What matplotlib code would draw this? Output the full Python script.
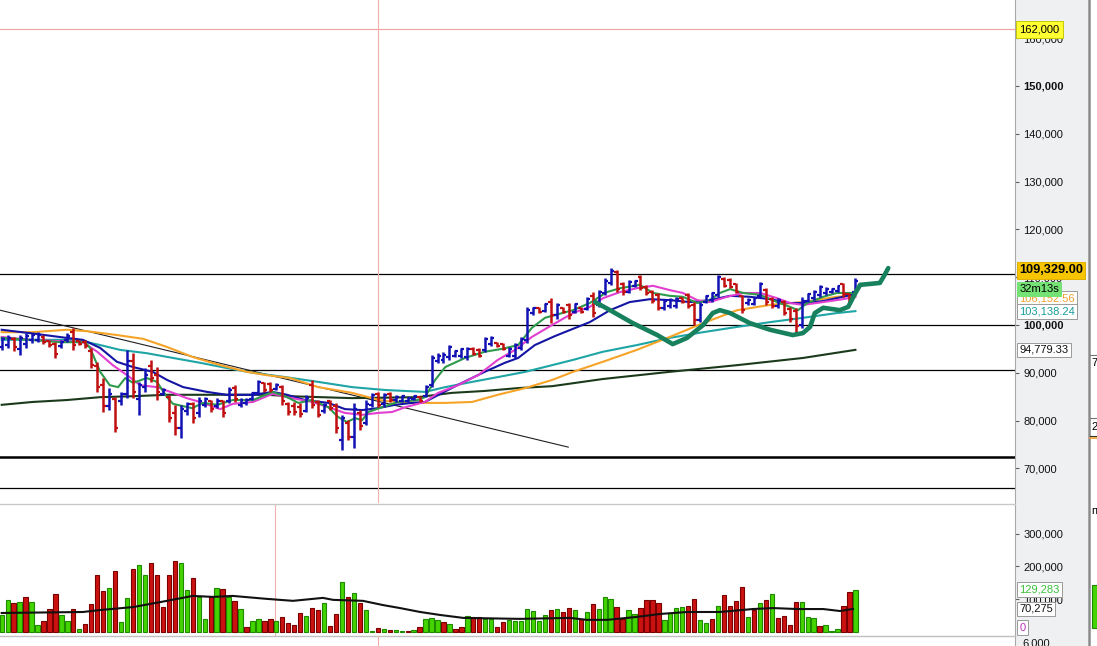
import matplotlib
matplotlib.use("Agg")
import matplotlib.pyplot as plt
from matplotlib.lines import Line2D
from matplotlib.patches import Rectangle

plt.rcParams['font.family'] = ['Liberation Sans', 'DejaVu Sans']

# --- price bars (thousands), one entry per bar ---
opens = [95.5, 95.8, 97.0, 95.0, 96.0, 96.8, 96.9, 97.5, 96.6, 96.0,
         95.6, 96.8, 98.5, 96.6, 96.5, 94.5, 91.5, 87.5, 83.0, 84.5,
         84.0, 85.5, 92.5, 84.5, 87.0, 91.5, 89.5, 85.6, 85.0, 81.5,
         78.5, 82.0, 83.5, 81.5, 83.2, 84.0, 83.0, 84.0, 84.0, 86.8,
         83.2, 83.6, 84.6, 85.8, 87.8, 87.6, 86.7, 87.0, 83.5, 83.0,
         82.8, 82.0, 87.5, 83.8, 82.0, 84.0, 83.0, 76.0, 79.5, 76.5,
         81.5, 79.5, 83.2, 85.5, 83.4, 85.6, 84.3, 84.2, 84.2, 84.5,
         85.0, 85.2, 87.5, 92.5, 92.6, 93.2, 93.6, 93.5, 93.2, 95.0,
         94.8, 94.8, 96.0, 96.2, 96.0, 93.6, 93.5, 95.2, 96.8, 102.5,
         103.6, 103.0, 104.8, 102.0, 103.5, 104.2, 102.8, 103.6, 103.4, 106.0,
         104.2, 106.6, 108.8, 111.0, 108.6, 107.0, 108.2, 110.0, 108.0, 107.0,
         106.2, 103.5, 104.0, 104.0, 105.6, 106.2, 104.2, 101.0, 104.9, 105.2,
         106.3, 109.6, 109.4, 108.5, 106.0, 104.5, 104.4, 106.0, 107.3, 105.5,
         104.0, 104.8, 103.4, 103.0, 100.0, 105.1, 105.6, 106.3, 106.6, 106.9,
         107.2, 108.5, 106.4, 107.0]
closes = [97.0, 97.2, 95.3, 97.3, 97.8, 97.9, 98.0, 96.4, 95.8, 94.0,
          96.5, 97.8, 95.8, 96.0, 95.6, 91.6, 87.0, 83.0, 85.5, 78.5,
          85.5, 92.5, 86.0, 87.5, 89.5, 89.0, 86.0, 86.5, 80.5, 78.5,
          82.5, 83.5, 80.5, 84.0, 84.5, 82.5, 84.2, 81.5, 86.5, 84.5,
          84.3, 84.4, 85.7, 88.0, 86.4, 86.5, 87.5, 84.0, 81.8, 81.8,
          81.4, 84.8, 83.2, 81.2, 83.3, 82.6, 78.5, 80.5, 76.5, 82.5,
          78.8, 83.5, 85.3, 83.3, 85.3, 84.3, 85.0, 85.1, 84.7, 85.2,
          84.2, 87.0, 93.0, 93.6, 93.8, 95.3, 94.5, 94.9, 95.0, 94.0,
          93.6, 97.0, 97.2, 95.6, 95.0, 95.0, 95.8, 97.0, 103.2, 103.5,
          102.8, 104.3, 102.0, 104.2, 102.8, 102.0, 104.3, 102.8, 105.5, 102.5,
          106.9, 109.3, 111.4, 107.5, 106.8, 109.0, 109.1, 107.7, 106.6, 105.0,
          103.6, 105.0, 105.2, 105.5, 104.9, 104.0, 101.0, 104.2, 106.0, 106.6,
          110.0, 108.2, 108.0, 107.0, 103.2, 105.3, 105.6, 108.5, 104.8, 104.0,
          105.2, 102.6, 101.2, 99.8, 105.0, 106.4, 107.0, 108.0, 107.6, 107.5,
          108.1, 106.4, 105.2, 109.3]
highs = [97.5, 97.9, 97.5, 97.9, 98.3, 98.3, 98.5, 97.9, 96.9, 96.4,
         96.9, 98.3, 99.4, 96.9, 96.9, 95.2, 92.3, 88.9, 86.8, 84.9,
         86.0, 94.8, 94.1, 88.1, 91.0, 92.7, 91.2, 86.8, 85.4, 83.3,
         83.3, 83.9, 83.9, 84.9, 84.9, 84.3, 84.7, 84.3, 87.0, 87.4,
         84.7, 84.7, 86.0, 88.5, 88.1, 88.1, 87.9, 87.4, 83.9, 83.9,
         83.7, 85.4, 88.5, 84.3, 83.7, 84.3, 83.7, 81.2, 80.1, 83.7,
         82.2, 84.3, 85.8, 86.0, 85.8, 86.0, 85.4, 85.4, 84.9, 85.4,
         85.2, 87.4, 93.7, 94.1, 94.4, 95.8, 94.8, 95.2, 95.4, 95.4,
         95.2, 97.5, 97.7, 96.4, 96.2, 95.4, 96.2, 97.5, 103.8, 103.8,
         103.8, 104.6, 105.6, 104.6, 103.8, 104.6, 104.6, 103.8, 105.9, 106.9,
         107.3, 109.8, 111.9, 111.5, 109.0, 109.4, 109.4, 110.5, 108.4, 107.3,
         106.7, 105.4, 105.6, 105.9, 105.9, 106.7, 104.8, 104.8, 106.3, 106.9,
         110.5, 110.0, 109.8, 108.8, 106.3, 105.6, 105.9, 109.0, 107.7, 105.9,
         105.6, 105.2, 103.8, 103.6, 105.9, 106.7, 107.3, 108.4, 107.9, 107.7,
         108.4, 108.8, 106.7, 109.8]
lows = [94.8, 95.2, 94.6, 93.7, 95.2, 96.2, 96.4, 96.0, 95.4, 93.1,
        95.2, 96.4, 94.8, 95.8, 95.2, 91.0, 86.0, 81.8, 82.2, 77.6,
        83.3, 84.7, 84.7, 81.2, 86.0, 88.1, 84.3, 85.4, 79.7, 77.0,
        76.4, 81.2, 79.5, 80.8, 82.8, 81.8, 82.6, 80.8, 83.7, 83.9,
        82.8, 83.3, 84.3, 85.4, 86.0, 86.0, 86.4, 83.3, 81.2, 81.2,
        80.8, 81.8, 82.6, 80.8, 81.6, 82.2, 77.4, 73.9, 75.9, 74.3,
        78.0, 79.1, 82.8, 82.8, 82.8, 83.9, 83.9, 83.9, 83.9, 84.3,
        83.9, 84.9, 87.0, 92.1, 92.1, 92.7, 93.3, 93.1, 92.7, 93.7,
        93.3, 94.4, 95.6, 95.4, 94.8, 93.3, 93.1, 94.8, 96.2, 102.1,
        102.5, 102.7, 100.4, 101.3, 102.5, 101.3, 102.5, 102.5, 103.1, 101.7,
        103.8, 106.3, 108.4, 106.9, 106.3, 106.7, 107.9, 107.3, 106.3, 104.6,
        103.1, 103.1, 103.6, 103.6, 104.6, 103.6, 100.0, 100.6, 104.6, 104.8,
        105.9, 107.9, 107.7, 106.7, 102.5, 104.2, 104.2, 105.6, 104.2, 103.6,
        103.6, 102.1, 100.6, 98.3, 99.4, 104.8, 105.2, 105.9, 106.3, 106.7,
        106.9, 105.9, 104.8, 106.7]

# --- volume (thousands) and bar colours (g = up, r = down) ---
volumes = [52, 98, 89, 91, 107, 91, 21, 34, 70, 116,
           52, 34, 70, 9, 24, 85, 174, 125, 134, 186,
           30, 104, 192, 204, 174, 210, 174, 76, 174, 216,
           210, 128, 165, 107, 40, 107, 134, 131, 107, 95,
           70, 15, 34, 40, 34, 40, 34, 46, 27, 21,
           58, 49, 73, 67, 88, 18, 55, 152, 107, 119,
           88, 67, 3, 12, 10, 6, 6, 3, 3, 6,
           15, 40, 43, 37, 30, 24, 9, 15, 49, 46,
           46, 40, 40, 15, 30, 37, 34, 34, 70, 64,
           34, 52, 67, 70, 61, 73, 67, 40, 61, 85,
           70, 107, 101, 76, 40, 67, 55, 73, 98, 98,
           88, 37, 58, 73, 76, 79, 101, 37, 27, 40,
           79, 113, 79, 95, 137, 46, 67, 88, 98, 116,
           43, 49, 21, 91, 91, 46, 43, 18, 21, 3,
           9, 79, 122, 129]
vol_dirs = ("ggrgrggrrr" "ggrgrrrrgr" "ggrggrrrrr" "ggrggrgrgr" "grggrrgrrr"
            "rgrrgrrgrg" "rggrgrggrg" "rgggrgrrgr" "rggrrggggg" "ggrgrrgrgr"
            "gggrrggrrr" "rggggrrggr" "grrrrgrgrg" "rrrrgggrgg" "grrg")

# --- moving averages: (bar index, value) ---
green_x = [0, 4.7, 9.8, 14.0, 14.8, 16.5, 18.1, 19.5, 20.7, 22.0, 24.3, 26.0, 27.7, 28.7, 31.9,
           33.7, 36.1, 38.7, 42.1, 45.4, 47.8, 49.7, 52.0, 54.7, 56.3, 57.8, 59.2, 60.4, 61.4,
           63.7, 66.4, 69.7, 70.9, 72.6, 74.3, 77.6, 80.9, 83.8, 86.5, 88.8, 91.0, 93.9, 95.7,
           98.5, 101.4, 103.6, 106.9, 109.1, 111.9, 114.1, 116.5, 118.6, 120.3, 122.0, 124.2,
           127.0, 129.9, 132.0, 133.4, 134.9, 137.6, 139.9, 143]
green_y = [97.3, 96.9, 96.4, 96.4, 95.2, 90.2, 87.4, 87.0, 88.9, 87.9, 88.9, 88.1, 84.9, 83.5, 82.6,
           83.7, 83.3, 84.3, 84.3, 86.0, 84.9, 83.7, 84.3, 82.8, 80.8, 79.7, 80.5, 80.1, 81.8,
           82.8, 83.9, 84.3, 84.9, 88.5, 91.2, 93.1, 94.4, 95.0, 95.8, 99.4, 101.5, 102.5, 103.1,
           104.6, 106.9, 107.7, 108.4, 106.7, 106.1, 105.9, 104.6, 105.2, 106.7, 107.5, 106.7,
           106.3, 104.8, 103.8, 103.1, 104.6, 105.9, 106.7, 106.7]
pink_x = [0, 4.7, 13.6, 16.0, 18.6, 21.0, 23.2, 26.0, 28.7, 31.0, 33.2, 36.6, 38.7, 42.1, 45.4,
          47.8, 52.0, 54.7, 57.5, 60.4, 63.0, 65.4, 67.6, 70.9, 73.1, 76.4, 79.8, 83.1, 86.0,
          88.8, 92.2, 95.7, 98.5, 100.7, 103.6, 106.4, 109.1, 111.9, 114.1, 116.5, 118.6, 121.5,
          124.2, 127.0, 129.9, 132.0, 134.2, 137.6, 140.9, 143]
pink_y = [97.5, 96.9, 96.4, 94.4, 91.6, 89.5, 87.4, 87.0, 85.8, 84.7, 83.9, 82.4, 83.5, 83.9, 85.6,
          84.9, 83.9, 82.8, 81.6, 81.2, 81.6, 81.8, 82.8, 83.9, 85.8, 87.4, 89.5, 92.7, 94.8,
          97.5, 100.0, 102.5, 103.8, 105.6, 106.9, 107.7, 108.2, 107.3, 106.7, 105.2, 104.8, 105.9,
          106.7, 106.7, 105.6, 104.6, 104.2, 104.8, 105.4, 105.9]
navy_x = [0, 4.7, 10.9, 13.6, 16.5, 19.3, 22.0, 25.3, 27.7, 30.4, 34.4, 37.7, 42.1, 45.4, 47.8,
          50.8, 54.7, 57.5, 60.4, 63.0, 65.9, 68.7, 70.9, 73.8, 77.1, 80.9, 84.3, 86.5, 89.3,
          92.7, 95.7, 98.5, 101.9, 105.2, 108.6, 111.9, 115.3, 118.6, 122.0, 125.3, 128.7,
          132.0, 134.2, 137.6, 140.9, 143]
navy_y = [99.0, 98.3, 97.3, 96.9, 95.2, 92.3, 91.2, 90.2, 88.5, 87.0, 86.0, 85.4, 85.4, 86.0, 85.4,
          84.3, 83.7, 82.4, 82.2, 82.6, 83.3, 83.7, 83.9, 85.8, 87.9, 90.2, 92.1, 93.1, 95.8,
          97.7, 99.2, 100.6, 103.1, 104.8, 105.4, 105.2, 104.8, 105.2, 106.1, 105.9, 105.4,
          104.6, 104.6, 105.0, 105.9, 106.5]
teal_x = [0, 12.6, 16.5, 19.8, 24.3, 28.7, 33.2, 37.7, 42.1, 47.5, 53.0, 58.7, 64.2, 70.9, 74.3,
          78.8, 83.1, 87.7, 92.2, 95.7, 100.7, 106.4, 111.9, 117.5, 123.2, 128.7, 134.2, 139.9, 143]
teal_y = [96.9, 96.9, 95.8, 94.8, 94.1, 93.1, 92.1, 91.0, 90.0, 89.1, 88.1, 87.0, 86.4, 86.0, 87.0,
          88.1, 89.1, 90.2, 91.6, 92.7, 94.4, 95.8, 97.3, 98.5, 99.6, 100.6, 101.5, 102.5, 102.9]
orange_x = [0, 5.2, 10.9, 14.3, 19.3, 23.7, 27.7, 32.0, 36.6, 41.1, 44.4, 48.3, 53.0, 58.7, 62.0,
            64.2, 69.7, 74.3, 78.8, 83.1, 87.7, 92.2, 95.7, 100.7, 106.4, 111.9, 117.5, 123.2,
            128.7, 134.2, 139.9, 143]
orange_y = [98.5, 98.5, 99.0, 98.7, 97.9, 97.1, 95.4, 93.3, 91.6, 90.2, 89.5, 88.9, 87.0, 85.8, 84.7,
            84.1, 83.7, 83.7, 83.9, 85.4, 86.8, 88.5, 90.2, 92.3, 94.8, 97.5, 100.4, 103.1,
            104.2, 104.8, 105.9, 106.2]
long_x = [0, 5.2, 10.9, 16.5, 22.0, 27.7, 44.4, 48.3, 58.7, 69.7, 75.4, 80.9, 86.5, 92.2, 100.7,
          111.9, 123.2, 134.2, 143]
long_y = [83.3, 83.9, 84.3, 84.9, 85.1, 85.4, 85.4, 85.1, 84.7, 84.9, 85.8, 86.2, 86.8, 87.2, 88.7,
          90.2, 91.6, 93.1, 94.8]
vol_ma_x = [0, 13.6, 16.5, 22.0, 26.5, 29.4, 32.0, 35.4, 38.7, 44.4, 48.8, 53.8, 55.5, 60.5, 63.9,
            66.7, 70.1, 73.4, 77.3, 86.8, 95.2, 98.0, 101.4, 106.4, 110.3, 114.8, 120.3, 125.8,
            129.2, 133.2, 137.6, 140.4, 142.6]
vol_ma_y = [58, 61, 67, 76, 91, 101, 110, 107, 110, 101, 95, 104, 98, 95, 82,
            73, 61, 52, 43, 40, 43, 37, 37, 46, 55, 61, 61, 70, 73, 70, 70, 64, 70.3]

# hand-drawn projection curve and trend line
proj_x = [99.4, 101.9, 105.7, 109.8, 112.4, 114.8, 117.5, 119.1, 120.3, 122.0, 125.3, 128.7,
          132.5, 134.2, 135.4, 136.2, 137.6, 140.4, 141.8, 143.0, 143.8, 145.5, 147.1, 147.9, 148.5]
proj_y = [104.8, 103.1, 100.4, 97.9, 96.0, 97.3, 100.0, 102.5, 103.1, 102.5, 100.4, 99.0,
          97.9, 98.3, 99.6, 102.5, 103.6, 103.1, 103.8, 106.7, 108.4, 108.6, 108.8, 110.5, 111.9]
trend_x = [-0.3, 94.9]
trend_y = [103.1, 74.45]
levels_thin = [110.67, 100.0, 90.59, 65.9]
level_thick = 72.39
alert_level = 162.0
price_ticks = [70, 80, 90, 100, 110, 120, 130, 140, 150, 160]
vol_ticks = [100, 200, 300]

W, H = 1097, 646
fig = plt.figure(figsize=(W / 100, H / 100), dpi=100)


def fx(px):
    return px / W


def fy(px):
    return 1 - px / H


# grey scale panel first, so the tick labels and tags sit on top of it
sc = fig.add_axes([fx(1015), 0, fx(73), 1])
sc.set_facecolor('#eff0f2')
sc.set_xticks([])
sc.set_yticks([])
for s in sc.spines.values():
    s.set_visible(False)

ax = fig.add_axes([0, fy(503), fx(1015), 503 / H])
vax = fig.add_axes([0, fy(636), fx(1015), 131 / H])

X0, X1 = -0.285, 169.73
for a in (ax, vax):
    a.set_xlim(X0, X1)
    a.set_xticks([])
    for s in a.spines.values():
        s.set_visible(False)
    a.yaxis.tick_right()
    a.tick_params(axis='y', direction='out', length=3, width=0.8, color='#606060',
                  pad=3, labelsize=8, labelcolor='#111111')

ax.set_ylim(62.76, 167.99)
vax.set_ylim(-12.2, 387.2)

ax.set_yticks(price_ticks, labels=[f'{v * 1000:,.0f}' for v in price_ticks])
for lab in ax.get_yticklabels():
    if lab.get_text() in ('150,000', '100,000'):
        lab.set_fontweight('bold')
vax.set_yticks(vol_ticks, labels=[f'{v * 1000:,.0f}' for v in vol_ticks])

# levels, crosshair, trend line
ax.axhline(alert_level, color='#f2a0a0', lw=0.8, zorder=1)
for lv in levels_thin:
    ax.axhline(lv, color='black', lw=0.9, zorder=1)
ax.axhline(level_thick, color='black', lw=1.8, zorder=1)
ax.axvline(62.95, color='#f0b0b0', lw=0.8, zorder=1)
vax.axvline(45.78, color='#f0b0b0', lw=0.8, zorder=1)
ax.plot(trend_x, trend_y, color='#202020', lw=0.8, zorder=1)

# moving averages
ax.plot(long_x, long_y, color='#1b3a1b', lw=1.5, zorder=2)
ax.plot(teal_x, teal_y, color='#1fa5a5', lw=1.5, zorder=2)
ax.plot(orange_x, orange_y, color='#f5a428', lw=1.5, zorder=2)
ax.plot(navy_x, navy_y, color='#1515a5', lw=1.5, zorder=2)
ax.plot(pink_x, pink_y, color='#e23fd0', lw=1.5, zorder=2)
ax.plot(green_x, green_y, color='#2e9a4c', lw=1.5, zorder=2)

# OHLC bars
xs = list(range(len(closes)))
cols = ['#1212b4' if c >= o else '#c01010' for o, c in zip(opens, closes)]
ax.vlines(xs, lows, highs, colors=cols, lw=1.8, zorder=3)
ax.hlines(opens, [x - 0.5 for x in xs], xs, colors=cols, lw=1.6, zorder=3)
ax.hlines(closes, xs, [x + 0.5 for x in xs], colors=cols, lw=1.6, zorder=3)

ax.plot(proj_x, proj_y, color='#17805c', lw=3.3, zorder=4,
        solid_capstyle='round', solid_joinstyle='round')

# volume
fills = ['#44d400' if d == 'g' else '#cc1111' for d in vol_dirs]
edges = ['#1f8a00' if d == 'g' else '#7a0000' for d in vol_dirs]
vax.bar(xs, volumes, width=0.72, color=fills, edgecolor=edges, linewidth=0.8, zorder=2)
vax.plot(vol_ma_x, vol_ma_y, color='#111111', lw=1.5, zorder=3)


def tag(a, val, text, fc, tc, dy=0.0, weight='normal', size=8, ec='#9a9a9a', z=5, pad=0.22):
    a.annotate(text, xy=(1, val), xycoords=('axes fraction', 'data'),
               xytext=(3, dy), textcoords='offset points', ha='left', va='center',
               fontsize=size, color=tc, fontweight=weight, zorder=z,
               annotation_clip=False,
               bbox=dict(boxstyle=f'square,pad={pad}', fc=fc, ec=ec, lw=0.7))


tag(ax, 162.0, '162,000', '#ffff33', 'black', dy=-0.8, ec='#c8c800', pad=0.3)
tag(ax, 106.15256, '106,152.56', 'white', '#f0a030', dy=-2.2, z=4)
tag(ax, 103.13824, '103,138.24', 'white', '#1a9c9c', dy=-1.2, z=4)
tag(ax, 94.77933, '94,779.33', 'white', '#111111', z=4)
tag(ax, 109.329, '32m13s', '#74e274', 'black', dy=-6.0, ec='#74e274', z=6, pad=0.18)
tag(ax, 109.329, '109,329.00', '#f7c500', 'black', dy=7.2, weight='bold', size=9.2,
    ec='#e0b000', z=7, pad=0.18)
tag(vax, 129.283, '129,283', 'white', '#3cbf3c')
tag(vax, 70.275, '70,275', 'white', '#111111')
tag(vax, 0, '0', 'white', '#c030c0', dy=3.2)

# panel borders and separators
fig.add_artist(Line2D([fx(1015), fx(1015)], [0, 1], color='#a8a8a8', lw=0.8))
fig.add_artist(Line2D([fx(1088.5), fx(1088.5)], [0, 1], color='#8a8a8a', lw=1.8))
fig.add_artist(Line2D([0, fx(1015)], [fy(504), fy(504)], color='#c8c8c8', lw=1.0))
fig.add_artist(Line2D([0, fx(1015)], [fy(635.5), fy(635.5)], color='#c0c0c0', lw=1.0))
fig.add_artist(Line2D([fx(377.5), fx(377.5)], [fy(636), 0], color='#f0b0b0', lw=0.8))
fig.text(fx(1022), fy(643), '6,000', fontsize=8, va='center', color='#111111')

# sliver of the neighbouring chart on the far right
fig.add_artist(Line2D([fx(1090), 1], [fy(355), fy(355)], color='#777777', lw=0.8))
fig.text(fx(1091), fy(363), '7', fontsize=8, va='center')
fig.add_artist(Line2D([fx(1090), 1], [fy(418), fy(418)], color='#777777', lw=0.8))
fig.text(fx(1091), fy(427), '2', fontsize=8, va='center')
fig.add_artist(Line2D([fx(1090), 1], [fy(436), fy(436)], color='#333333', lw=0.8))
fig.add_artist(Line2D([fx(1090), 1], [fy(438), fy(438)], color='#f0a030', lw=1.2))
fig.text(fx(1091), fy(511), 'п', fontsize=8, va='center')
fig.add_artist(Rectangle((fx(1092), fy(628)), fx(5), (628 - 585) / H,
                         fc='#44d400', ec='#1f8a00', lw=0.8))

fig.savefig('out.png', dpi=100)
